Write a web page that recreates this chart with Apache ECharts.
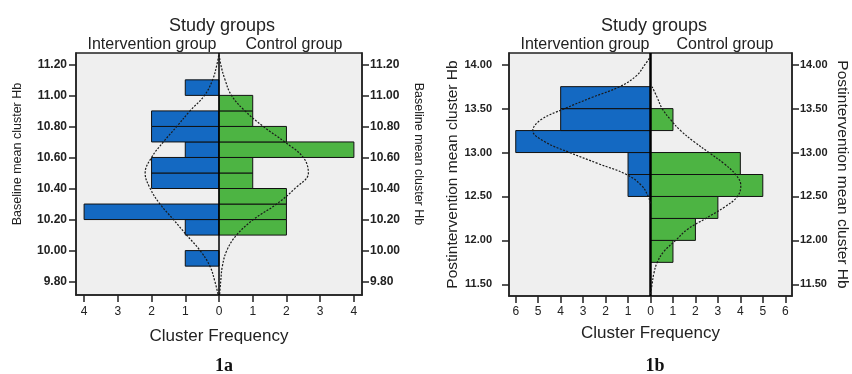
<!DOCTYPE html>
<html>
<head>
<meta charset="utf-8">
<script src="https://cdn.jsdelivr.net/npm/echarts@6/dist/echarts.min.js"></script>
<style>
html,body{margin:0;padding:0;background:#fff;}
#c{width:852px;height:374px;}
</style>
</head>
<body>
<div id="c"></div>
<script>
// ---------- Chart 1a: Baseline mean cluster Hb ----------
const binLoA = [9.9, 10.0, 10.1, 10.2, 10.3, 10.4, 10.5, 10.6, 10.7, 10.8, 10.9, 11.0];
const binWidthA = 0.1;
const interventionA = [1, 0, 1, 4, 0, 2, 2, 1, 2, 2, 0, 1];
const controlA      = [0, 0, 2, 2, 2, 1, 1, 4, 2, 1, 1, 0];
const yTicksA = [9.8, 10.0, 10.2, 10.4, 10.6, 10.8, 11.0, 11.2];
const xTicksA = [-4, -3, -2, -1, 0, 1, 2, 3, 4];
const curveYA = [9.72, 9.80, 9.90, 10.00, 10.10, 10.20, 10.30, 10.40, 10.50, 10.60, 10.70, 10.80, 10.90, 11.00, 11.10, 11.20, 11.27];
const curveIntA = [0.03, 0.12, 0.27, 0.56, 0.96, 1.35, 1.75, 2.04, 2.19, 2.00, 1.65, 1.25, 0.86, 0.43, 0.19, 0.06, 0.0];
const curveCtlA = [0.02, 0.05, 0.10, 0.23, 0.52, 1.02, 1.71, 2.25, 2.65, 2.50, 1.95, 1.31, 0.77, 0.37, 0.18, 0.05, 0.0];

// ---------- Chart 1b: Postintervention mean cluster Hb ----------
const binLoB = [11.75, 12.0, 12.25, 12.5, 12.75, 13.0, 13.25, 13.5];
const binWidthB = 0.25;
const interventionB = [0, 0, 0, 1, 1, 6, 4, 4];
const controlB      = [1, 2, 3, 5, 4, 0, 1, 0];
const yTicksB = [11.5, 12.0, 12.5, 13.0, 13.5, 14.0];
const xTicksB = [-6, -5, -4, -3, -2, -1, 0, 1, 2, 3, 4, 5, 6];
const curveYIntB = [12.42, 12.50, 12.625, 12.75, 12.875, 13.00, 13.125, 13.25, 13.375, 13.50, 13.625, 13.75, 13.875, 14.00, 14.09];
const curveIntB  = [0.0, 0.10, 0.40, 1.07, 2.34, 3.60, 4.72, 5.24, 4.87, 3.82, 2.63, 1.37, 0.62, 0.25, 0.0];
const curveYCtlB = [11.39, 11.50, 11.625, 11.75, 11.875, 12.0, 12.125, 12.25, 12.375, 12.5, 12.625, 12.75, 12.875, 13.0, 13.125, 13.25, 13.375, 13.5, 13.625, 13.75];
const curveCtlB  = [0.0, 0.07, 0.15, 0.30, 0.60, 1.12, 1.64, 2.46, 3.27, 3.87, 4.02, 3.79, 3.27, 2.60, 1.93, 1.34, 0.89, 0.52, 0.30, 0.07];

const titleMain = 'Study groups';
const groupLeft = 'Intervention group';
const groupRight = 'Control group';
const xName = 'Cluster Frequency';
const yNameA = 'Baseline mean cluster Hb';
const yNameB = 'Postintervention mean cluster Hb';

const BLUE = '#1469c2';
const GREEN = '#4db443';
const FONT = '"Liberation Sans", Arial, sans-serif';

function binData(los, w, counts, sign) {
  const out = [];
  los.forEach((lo, i) => { if (counts[i] > 0) out.push([lo, lo + w, sign * counts[i]]); });
  return out;
}
function curveData(ys, vals, sign) {
  return ys.map((y, i) => [sign * vals[i], y]);
}
function renderBar(params, api) {
  const lo = api.value(0), hi = api.value(1), v = api.value(2);
  const a = api.coord([v, hi]);
  const b = api.coord([0, lo]);
  return {
    type: 'rect',
    shape: { x: Math.min(a[0], b[0]), y: a[1], width: Math.abs(b[0] - a[0]), height: b[1] - a[1] },
    style: { fill: api.visual('color'), stroke: '#111', lineWidth: 1 }
  };
}

function xAxis(gi, lim, ticks, lm, gap) {
  return {
    type: 'value', gridIndex: gi, min: -lim, max: lim, position: 'bottom',
    splitLine: { show: false },
    axisLine: { show: true, onZero: false, lineStyle: { color: '#222', width: 1.5 } },
    axisTick: { show: true, inside: false, length: 7, customValues: ticks, lineStyle: { color: '#222', width: 1.5 } },
    axisLabel: { customValues: ticks, formatter: v => String(Math.abs(v)), color: '#222', fontSize: 12, fontFamily: FONT, margin: lm },
    name: xName, nameLocation: 'middle', nameGap: gap,
    nameTextStyle: { color: '#222', fontSize: 17, fontFamily: FONT }
  };
}
function yAxis(gi, min, max, ticks, pos, name, gap, rot, opt) {
  return {
    type: 'value', gridIndex: gi, min: min, max: max, position: pos,
    splitLine: { show: false },
    axisLine: { show: true, onZero: false, lineStyle: { color: '#222', width: 1.5 } },
    axisTick: { show: true, inside: false, length: 7, customValues: ticks, lineStyle: { color: '#222', width: 1.5 } },
    axisLabel: { customValues: ticks, formatter: v => v.toFixed(2), color: '#222', fontSize: opt.lf, fontWeight: 'bold', fontFamily: FONT, margin: opt.lm },
    name: name, nameLocation: 'middle', nameGap: gap, nameRotate: rot,
    nameTextStyle: { color: '#222', fontSize: opt.nf, fontFamily: FONT, padding: opt.pad || 0 }
  };
}
function curveSeries(xi, yi, data) {
  return {
    type: 'line', xAxisIndex: xi, yAxisIndex: yi, data: data, smooth: 0.4,
    symbol: 'none', lineStyle: { color: '#1a1a1a', width: 1.2, type: [2, 1.5] }, z: 5, silent: true
  };
}
function centerLine(xi, yi, width) {
  return {
    type: 'line', xAxisIndex: xi, yAxisIndex: yi, data: [], symbol: 'none', z: 6,
    markLine: { silent: true, symbol: 'none', label: { show: false },
      lineStyle: { color: '#000', width: width, type: 'solid' }, data: [{ xAxis: 0 }] }
  };
}

const chart = echarts.init(document.getElementById('c'), null, { renderer: 'canvas' });
const tc = { textAlign: 'center' };
const headStyle = fs => ({ fontSize: fs, fontWeight: 'normal', color: '#222', fontFamily: FONT });
const capStyle = { fontSize: 18, fontWeight: 'bold', color: '#111', fontFamily: '"Liberation Serif", "DejaVu Serif", serif' };
chart.setOption({
  animation: false,
  backgroundColor: '#fff',
  title: [
    { text: titleMain, left: 217, top: 12, ...tc, textStyle: headStyle(18) },
    { text: groupLeft, left: 147, top: 32, ...tc, textStyle: headStyle(16) },
    { text: groupRight, left: 289, top: 32, ...tc, textStyle: headStyle(16) },
    { text: '1a', left: 219, top: 352, ...tc, textStyle: capStyle },
    { text: titleMain, left: 649, top: 12, ...tc, textStyle: headStyle(18) },
    { text: groupLeft, left: 580, top: 32, ...tc, textStyle: headStyle(16) },
    { text: groupRight, left: 720, top: 32, ...tc, textStyle: headStyle(16) },
    { text: '1b', left: 650, top: 352, ...tc, textStyle: capStyle }
  ],
  grid: [
    { left: 76, right: 490, top: 53, bottom: 79, show: true, backgroundColor: '#efefef', borderColor: '#222', borderWidth: 1.5 },
    { left: 509, right: 60, top: 53, bottom: 78, show: true, backgroundColor: '#efefef', borderColor: '#222', borderWidth: 1.5 }
  ],
  xAxis: [ xAxis(0, 4.24, xTicksA, 11, 33), xAxis(1, 6.3, xTicksB, 10, 29) ],
  yAxis: [
    yAxis(0, 9.714, 11.273, yTicksA, 'left', yNameA, 52, 90, { lf: 12, lm: 9, nf: 12.5, pad: [0, 0, 0, 40] }),
    yAxis(0, 9.714, 11.273, yTicksA, 'right', yNameA, 50, -90, { lf: 12, lm: 8, nf: 12.5, pad: [0, 40, 0, 0] }),
    yAxis(1, 11.367, 14.133, yTicksB, 'left', yNameB, 48, 90, { lf: 11, lm: 17, nf: 15.5 }),
    yAxis(1, 11.367, 14.133, yTicksB, 'right', yNameB, 42, -90, { lf: 11, lm: 8, nf: 15.5 })
  ],
  series: [
    { type: 'custom', xAxisIndex: 0, yAxisIndex: 0, renderItem: renderBar, itemStyle: { color: BLUE },
      data: binData(binLoA, binWidthA, interventionA, -1), encode: { x: 2, y: [0, 1] }, z: 3 },
    { type: 'custom', xAxisIndex: 0, yAxisIndex: 0, renderItem: renderBar, itemStyle: { color: GREEN },
      data: binData(binLoA, binWidthA, controlA, 1), encode: { x: 2, y: [0, 1] }, z: 3 },
    curveSeries(0, 0, curveData(curveYA, curveIntA, -1)),
    curveSeries(0, 0, curveData(curveYA, curveCtlA, 1)),
    centerLine(0, 0, 1.5),
    { type: 'custom', xAxisIndex: 1, yAxisIndex: 2, renderItem: renderBar, itemStyle: { color: BLUE },
      data: binData(binLoB, binWidthB, interventionB, -1), encode: { x: 2, y: [0, 1] }, z: 3 },
    { type: 'custom', xAxisIndex: 1, yAxisIndex: 2, renderItem: renderBar, itemStyle: { color: GREEN },
      data: binData(binLoB, binWidthB, controlB, 1), encode: { x: 2, y: [0, 1] }, z: 3 },
    curveSeries(1, 2, curveData(curveYIntB, curveIntB, -1)),
    curveSeries(1, 2, curveData(curveYCtlB, curveCtlB, 1)),
    centerLine(1, 2, 2.5)
  ]
});
</script>
</body>
</html>
